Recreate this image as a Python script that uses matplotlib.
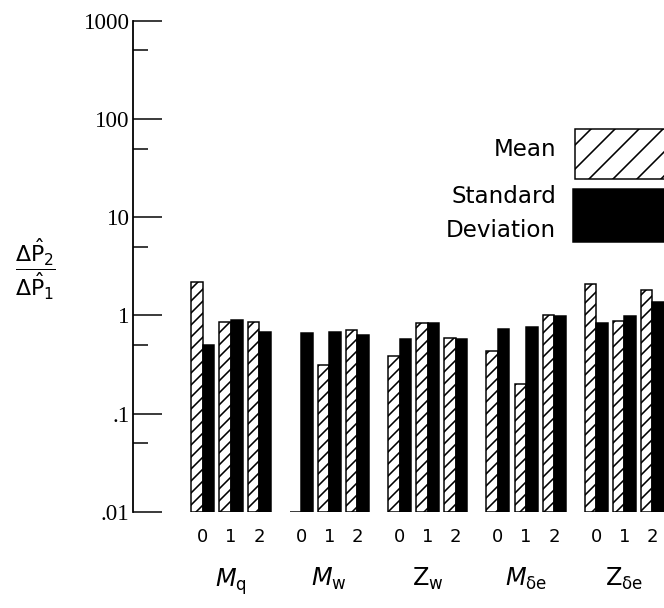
"""Ratio of parameter-error estimates, dP2/dP1, per parameter and run (log bars)."""
import numpy as np
import matplotlib
matplotlib.use("Agg")
import matplotlib.pyplot as plt
from matplotlib.patches import Rectangle

plt.rcParams["mathtext.fontset"] = "dejavusans"
plt.rcParams["hatch.linewidth"] = 1.6

# ---------- data ----------
groups = [r"$\mathit{M}_\mathrm{q}$", r"$\mathit{M}_\mathrm{w}$", r"$\mathrm{Z}_\mathrm{w}$",
          r"$\mathit{M}_{\mathrm{\delta e}}$", r"$\mathrm{Z}_{\mathrm{\delta e}}$"]
runs = ["0", "1", "2"]
mean = [[2.18, 0.855, 0.855],
        [0.01, 0.31, 0.715],
        [0.39, 0.83, 0.59],
        [0.44, 0.20, 1.00],
        [2.08, 0.87, 1.83]]
std = [[0.50, 0.90, 0.676],
       [0.66, 0.676, 0.63],
       [0.58, 0.83, 0.58],
       [0.73, 0.77, 0.98],
       [0.83, 0.99, 1.38]]
ytick_vals = [0.01, 0.1, 1, 10, 100, 1000]
ytick_labels = [".01", ".1", "1", "10", "100", "1000"]
yminor_vals = [0.05, 0.5, 5, 50, 500]

BASE = 0.01
W = 0.41          # bar width (pair spacing = 1)
GSTEP = 3.5       # group spacing

fig = plt.figure(figsize=(664 / 72, 608 / 72), dpi=72)
ax = fig.add_axes([0.1998, 0.1579, 0.804, 0.8081])
ax.set_yscale("log")

xs, xl = [], []
for g, (gm, gs) in enumerate(zip(mean, std)):
    for k, run in enumerate(runs):
        x = g * GSTEP + k
        ax.bar(x - W / 2, gm[k] - BASE, width=W, bottom=BASE, facecolor="white",
               edgecolor="black", hatch="//", lw=1.5)
        ax.bar(x + W / 2, gs[k] - BASE, width=W, bottom=BASE, facecolor="black",
               edgecolor="black", lw=1.5)
        xs.append(x); xl.append(run)
    ax.annotate(groups[g], xy=(g * GSTEP + 1, 0), xycoords=("data", "axes fraction"),
                xytext=(0, -54), textcoords="offset points", ha="center", va="top",
                fontsize=24)

ax.set_xlim(-2.5, 16.5)
ax.set_ylim(0.01, 1000)
ax.set_xticks(xs, xl, fontsize=18)
ax.tick_params(axis="x", length=0, pad=16)
ax.set_yticks(ytick_vals, ytick_labels, fontsize=23, family="Liberation Serif")
ax.set_yticks(yminor_vals, minor=True)
ax.yaxis.set_minor_formatter(matplotlib.ticker.NullFormatter())
ax.tick_params(axis="y", which="major", direction="in", length=29, width=1.5, pad=3)
ax.tick_params(axis="y", which="minor", direction="in", length=15, width=1.5)
for s in ["top", "right", "bottom"]:
    ax.spines[s].set_visible(False)
ax.spines["left"].set_linewidth(1.8)

# y label as a stacked fraction
fig.text(0.054, 0.5576, r"$\dfrac{\Delta\hat{\mathrm{P}}_2}{\Delta\hat{\mathrm{P}}_1}$",
         ha="center", va="center", fontsize=22)

# ---------- legend (boxes run off the right edge) ----------
fig.add_artist(Rectangle((0.866, 0.7056), 0.2, 0.0822, transform=fig.transFigure,
                         facecolor="white", edgecolor="black", hatch="/", lw=1.5))
fig.add_artist(Rectangle((0.863, 0.602), 0.2, 0.0872, transform=fig.transFigure,
                         facecolor="black", edgecolor="black", lw=1.5))
fig.text(0.8373, 0.7549, "Mean", ha="right", va="center", fontsize=23)
fig.text(0.8373, 0.676, "Standard", ha="right", va="center", fontsize=23)
fig.text(0.8373, 0.6217, "Deviation", ha="right", va="center", fontsize=23)

fig.savefig("out.png", dpi=72)
